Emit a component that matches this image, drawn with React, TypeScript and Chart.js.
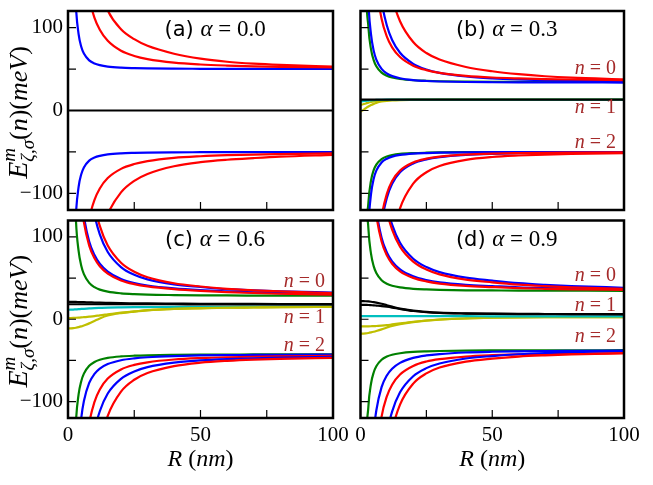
import { useEffect, useRef } from 'react'
import { Chart, registerables } from 'chart.js'

Chart.register(...registerables)

const W = 653
const H = 485
const SERIF = '"Liberation Serif", "Times New Roman", serif'
const SANS = '"DejaVu Sans", sans-serif'
const BROWN = '#a52a2a'
const COL: Record<string, string> = {
  b: '#0000ff',
  r: '#ff0000',
  g: '#008000',
  k: '#000000',
  c: '#00bfbf',
  y: '#bfbf00',
}

// R (nm) sample points shared by every curve
const R_NM = [0, 1, 2, 3, 4, 5, 6, 8, 10, 12, 15, 20, 25, 30, 40, 50, 60, 70, 80, 100]
const X_TICKS = [0, 25, 50, 75, 100]
const X_LABELS = ['0', '', '50', '', '100']
const Y_TICKS = [-100, -50, 0, 50, 100]
const Y_LABELS = ['−100', '', '0', '', '100']
const N_TEXT = ['0', '1', '2']

type V = (number | null)[]

// (a) alpha = 0.0
const A_BLUE_UP: V = [null, 723, 218, 124.8, 92.1, 76.9, 68.7, 60.5, 56.7, 54.7, 53, 51.7, 51.1, 50.7, 50.4, 50.3, 50.2, 50.1, 50.1, 50.1]
const A_RED_UP1: V = [null, null, null, null, 294, 224.7, 182.9, 136.3, 111.8, 97.5, 84, 72, 65.8, 62, 57.7, 55.5, 54.2, 53.3, 52.7, 52]
const A_RED_UP2: V = [null, null, null, null, null, null, 329.5, 231.5, 179.9, 148.8, 120.7, 98, 86, 78, 68.5, 62.5, 58.8, 56.5, 55, 53]
const A_BLUE_DN: V = [null, -723, -218, -124.8, -92.1, -76.9, -68.7, -60.5, -56.7, -54.7, -53, -51.7, -51.1, -50.7, -50.4, -50.3, -50.2, -50.1, -50.1, -50.1]
const A_RED_DN1: V = [null, null, null, null, -278, -213, -174, -130.7, -107.8, -94, -81.5, -70.4, -64.6, -61.1, -57.2, -55.2, -53.9, -53.1, -52.6, -51.8]
const A_RED_DN2: V = [null, null, null, null, null, null, -346, -242, -187.7, -154.8, -125, -98.7, -84.8, -76.5, -67.2, -62.3, -59.4, -57.4, -55.7, -53.6]
const A_BLACK: V = [0, 0, 0, 0, 0, 0, 0, 0, 0, 0, 0, 0, 0, 0, 0, 0, 0, 0, 0, 0]

// (b) alpha = 0.3
const B_GREEN_UP: V = [null, 512, 171, 100.5, 73.7, 60.7, 53.3, 45.6, 41.9, 39.8, 38, 36.5, 35.8, 35.3, 34.9, 34.7, 34.6, 34.5, 34.5, 34.4]
const B_BLUE_UP1: V = [null, 735, 235, 130.7, 91.4, 72.2, 61.4, 50.1, 44.6, 41.5, 38.9, 36.7, 35.6, 35, 34.4, 34.1, 33.9, 33.8, 33.8, 33.7]
const B_RED_UP1: V = [null, null, null, null, 249, 188, 151.4, 110.6, 89.1, 76.2, 64.5, 54.1, 48.7, 45.4, 41.8, 39.8, 38.7, 37.9, 37.4, 36.7]
const B_BLUE_UP2: V = [null, null, null, null, 332.8, 243.5, 189.8, 132.1, 102.6, 85.1, 69.6, 56.3, 49.4, 45.4, 41, 38.7, 37.4, 36.6, 36, 35.2]
const B_RED_UP2: V = [null, null, null, null, null, null, 319, 220, 167.7, 136.2, 107.7, 82.6, 69.3, 61.4, 52.5, 47.3, 43.8, 41.3, 39.6, 37.5]
const B_GREEN_DN: V = [null, -599, -187, -111, -84.3, -72, -65.3, -58.6, -55.5, -53.8, -52.4, -51.4, -50.9, -50.6, -50.3, -50.2, -50.2, -50.1, -50.1, -50.1]
const B_BLUE_DN1: V = [null, -859, -252, -140, -100.6, -82.4, -72.5, -62.6, -58.1, -55.6, -53.6, -52, -51.3, -50.9, -50.5, -50.3, -50.2, -50.2, -50.1, -50.1]
const B_RED_DN1: V = [null, null, null, null, -366, -252, -190.5, -129, -100.6, -85.1, -72.5, -62.6, -58.1, -55.6, -53.2, -52, -51.4, -51, -50.8, -50.5]
const B_BLUE_DN2: V = [null, null, null, null, -396.6, -271.8, -204, -136.6, -105.5, -88.5, -74.6, -63.9, -58.9, -56.2, -53.5, -52.2, -51.5, -51.1, -50.9, -50.6]
const B_RED_DN2: V = [null, null, null, null, null, null, -476, -289.6, -203.3, -156.5, -118.1, -88.3, -74.5, -67, -59.6, -56.1, -54.3, -53.1, -52.4, -51.5]
const B_BLACK: V = [13, 13, 13, 13, 13, 13, 13, 13, 13, 13, 13, 13, 13, 13, 13, 13, 13, 13, 13, 13]
const B_CYAN: V = [11, 11.3, 11.7, 12, 12.3, 12.5, 12.7, 12.9, 13, 13, 13, 13, 13, 13, 13, 13, 13, 13, 13, 13]
const B_YELLOW1: V = [7, 7.5, 8.5, 9.5, 10.3, 11, 11.5, 12.2, 12.6, 12.8, 12.9, 13, 13, 13, 13, 13, 13, 13, 13, 13]
const B_YELLOW2: V = [-1, 0.5, 2.7, 4.8, 6.6, 8, 9.2, 10.8, 11.7, 12.2, 12.6, 12.8, 12.9, 13, 13, 13, 13, 13, 13, 13]

// (c) alpha = 0.6
const C_GREEN_UP: V = [null, 689, 218.3, 120, 83, 65, 54.8, 44.2, 39, 36, 33.5, 31.5, 30.5, 29.9, 29.4, 29.1, 28.9, 28.8, 28.7, 28.7]
const C_RED_UP1: V = [null, null, null, 256, 182.6, 142.6, 117.9, 89.5, 74, 64.4, 55.5, 47.2, 42.7, 39.9, 36.6, 34.5, 33, 31.9, 31, 29.8]
const C_BLUE_UP1: V = [null, null, null, 275, 196, 152, 125, 94.5, 78, 67.5, 58, 49, 44, 41, 37.5, 35.3, 33.8, 32.6, 31.7, 30.5]
const C_RED_UP2: V = [null, null, null, null, null, 340, 265.7, 183.1, 139.6, 113.4, 89.6, 68.7, 57.7, 51.1, 43.7, 39.8, 37, 35.2, 33.8, 31.8]
const C_BLUE_UP2: V = [null, null, null, null, null, 321, 247, 167.8, 127.2, 103.1, 81.7, 63.4, 54, 48.4, 42.4, 39.2, 36.5, 35, 34, 32.5]
const C_GREEN_DN: V = [null, -636, -213, -124.7, -91.4, -75.3, -66.1, -56.6, -51.9, -49.3, -47, -45.2, -44.3, -43.8, -43.3, -43, -42.9, -42.8, -42.7, -42.6]
const C_BLUE_DN1: V = [null, null, null, -227.4, -155.8, -120, -99.4, -77.4, -66.4, -60, -54.5, -49.8, -47.5, -46.2, -44.8, -44, -43.6, -43.4, -43.2, -43]
const C_RED_DN1: V = [null, null, null, null, -313.5, -228.4, -179.2, -126.7, -100.4, -85.3, -72.1, -61, -55.5, -52.3, -48.9, -47.2, -46.2, -45.6, -45.2, -44.6]
const C_BLUE_DN2: V = [null, null, null, null, null, -343.5, -263.7, -178.7, -136.2, -111.8, -90.3, -72.4, -63.4, -58.2, -52.7, -50, -48.4, -47.4, -46.7, -45.8]
const C_RED_DN2: V = [null, null, null, null, null, null, -423, -270.3, -195.5, -153.3, -117.3, -87.9, -73.5, -65.4, -57, -52.8, -50.5, -49, -48.1, -46.9]
const C_BLACK1: V = [21, 21, 21, 21, 20.9, 20.8, 20.7, 20.5, 20.3, 20.1, 19.9, 19.6, 19.4, 19.2, 19, 18.8, 18.7, 18.6, 18.5, 18.4]
const C_BLACK2: V = [18.2, 18.2, 18.2, 18.2, 18.2, 18.2, 18.2, 18.2, 18.2, 18.2, 18.2, 18.2, 18.2, 18.2, 18.2, 18.1, 18.1, 18.1, 18, 18]
const C_CYAN: V = [11.5, 11.6, 11.8, 12, 12.2, 12.5, 12.7, 13.1, 13.5, 13.8, 14.2, 14.5, 14.7, 14.8, 15, 15.1, 15.2, 15.3, 15.4, 15.5]
const C_YELLOW1: V = [1.5, 1.5, 1.6, 1.8, 2, 2.2, 2.5, 3.1, 3.8, 4.8, 6, 8, 9.5, 11, 12.5, 13.5, 14, 14.3, 14.6, 15]
const C_YELLOW2: V = [-11, -11, -10.8, -10.3, -9.6, -8.7, -7.5, -5, -2, 1, 4.5, 7.5, 9.3, 10.8, 12.5, 13.3, 14, 14.3, 14.6, 15]

// (d) alpha = 0.9
const D_GREEN_UP: V = [null, 580, 191.2, 110, 79.5, 64.6, 56.2, 47.4, 43.1, 40.7, 38.7, 37, 36.2, 35.7, 35.2, 35, 34.8, 34.8, 34.7, 34.6]
const D_RED_UP1: V = [null, null, null, null, 202.7, 155.1, 126.4, 94.5, 77.6, 67.5, 58.3, 50.3, 46, 43.4, 40.6, 39.1, 37.8, 37, 36.4, 35.6]
const D_BLUE_UP1: V = [null, null, null, null, 213.7, 163.3, 132.9, 99, 81.2, 70.4, 60.7, 52.2, 47.7, 44.9, 41.9, 40.3, 38.8, 38, 37.4, 36.6]
const D_RED_UP2: V = [null, null, null, null, null, 305.7, 241.2, 169.4, 131.6, 108.8, 88.2, 70, 60.4, 54.6, 48.2, 44.8, 42, 40.2, 38.8, 36.8]
const D_BLUE_UP2: V = [null, null, null, null, null, 324.6, 255.9, 179.5, 139.2, 114.9, 93, 73.6, 63.4, 57.3, 50.5, 46.9, 43.8, 41.8, 40.3, 38.3]
const D_GREEN_DN: V = [null, -530, -179.2, -105.8, -78.1, -64.7, -57.1, -49.2, -45.3, -43.1, -41.3, -39.7, -39, -38.6, -38.1, -37.9, -37.8, -37.7, -37.7, -37.6]
const D_BLUE_DN1: V = [null, null, null, -276, -183.6, -137.5, -110.9, -82.5, -68.3, -60.1, -53, -47, -44, -42.3, -40.4, -39.5, -39, -38.6, -38.4, -38.1]
const D_RED_DN1: V = [null, null, null, null, -294, -214, -167.7, -118.4, -93.7, -79.5, -67.1, -56.7, -51.4, -48.5, -45.3, -43.7, -42.7, -42.2, -41.8, -41.3]
const D_BLUE_DN2: V = [null, null, null, null, null, -365, -278, -185.3, -138.9, -112.2, -88.8, -69.2, -59.4, -53.8, -47.7, -44.7, -42.5, -41, -40, -38.8]
const D_RED_DN2: V = [null, null, null, null, null, null, -368.6, -236.3, -171.5, -134.9, -103.7, -78.2, -65.8, -58.7, -51.4, -47.8, -45.3, -43.8, -42.7, -41.2]
const D_BLACK1: V = [22, 22, 21.9, 21.7, 21.3, 20.8, 20.2, 18.8, 17, 15.3, 13, 10.5, 9, 8, 7.2, 6.8, 6.5, 6.4, 6.3, 6.2]
const D_BLACK2: V = [17.5, 17.5, 17.4, 17.3, 17.1, 16.9, 16.6, 16, 15.2, 14.2, 12.5, 10, 8.5, 7.6, 6.9, 6.5, 6.3, 6.2, 6.1, 6]
const D_CYAN: V = [3.8, 3.8, 3.8, 3.8, 3.8, 3.8, 3.8, 3.8, 3.8, 3.8, 3.8, 3.7, 3.7, 3.7, 3.7, 3.6, 3.6, 3.6, 3.6, 3.6]
const D_YELLOW1: V = [-8.7, -8.7, -8.7, -8.6, -8.5, -8.4, -8.2, -7.8, -7.2, -6.3, -5, -3, -1.5, -0.3, 1, 1.8, 2.2, 2.4, 2.5, 2.7]
const D_YELLOW2: V = [-17.5, -17.4, -17.2, -16.7, -16, -15.2, -14.3, -12.3, -10, -8, -6, -3.5, -1.7, -0.5, 1, 1.8, 2.2, 2.4, 2.5, 2.7]

// n = 0,1,2 label baselines (meV), per panel
const B_N_POS = [44.6, -3.3, -45.8]
const C_N_POS = [39.5, -4, -38.3]
const D_N_POS = [46.3, 10, -28.2]

type Series = [V, string][]

// listed top-most first (Chart.js paints dataset 0 last)
const A_SERIES: Series = [
  [A_RED_UP2, 'r'], [A_RED_UP1, 'r'], [A_RED_DN2, 'r'], [A_RED_DN1, 'r'],
  [A_BLUE_UP, 'b'], [A_BLUE_DN, 'b'], [A_BLACK, 'k'],
]
const B_SERIES: Series = [
  [B_RED_UP2, 'r'], [B_RED_UP1, 'r'], [B_BLUE_UP2, 'b'], [B_BLUE_UP1, 'b'], [B_GREEN_UP, 'g'],
  [B_RED_DN2, 'r'], [B_RED_DN1, 'r'], [B_BLUE_DN2, 'b'], [B_BLUE_DN1, 'b'], [B_GREEN_DN, 'g'],
  [B_BLACK, 'k'], [B_CYAN, 'c'], [B_YELLOW1, 'y'], [B_YELLOW2, 'y'],
]
const C_SERIES: Series = [
  [C_RED_UP2, 'r'], [C_BLUE_UP2, 'b'], [C_RED_UP1, 'r'], [C_BLUE_UP1, 'b'], [C_GREEN_UP, 'g'],
  [C_RED_DN2, 'r'], [C_BLUE_DN2, 'b'], [C_RED_DN1, 'r'], [C_BLUE_DN1, 'b'], [C_GREEN_DN, 'g'],
  [C_BLACK1, 'k'], [C_BLACK2, 'k'], [C_YELLOW1, 'y'], [C_YELLOW2, 'y'], [C_CYAN, 'c'],
]
const D_SERIES: Series = [
  [D_RED_UP2, 'r'], [D_BLUE_UP2, 'b'], [D_RED_UP1, 'r'], [D_BLUE_UP1, 'b'], [D_GREEN_UP, 'g'],
  [D_RED_DN2, 'r'], [D_BLUE_DN2, 'b'], [D_RED_DN1, 'r'], [D_BLUE_DN1, 'b'], [D_GREEN_DN, 'g'],
  [D_BLACK1, 'k'], [D_BLACK2, 'k'], [D_CYAN, 'c'], [D_YELLOW1, 'y'], [D_YELLOW2, 'y'],
]

interface Panel {
  id: string
  tag: string
  alpha: string
  area: { left: number; top: number; right: number; bottom: number }
  showX: boolean
  showY: boolean
  series: Series
  nPos: number[]
}

const PANELS: Panel[] = [
  { id: 'a', tag: '(a)', alpha: '0.0', area: { left: 68, top: 11, right: 333, bottom: 210 }, showX: false, showY: true, series: A_SERIES, nPos: [] },
  { id: 'b', tag: '(b)', alpha: '0.3', area: { left: 360.5, top: 11, right: 624, bottom: 210 }, showX: false, showY: false, series: B_SERIES, nPos: B_N_POS },
  { id: 'c', tag: '(c)', alpha: '0.6', area: { left: 68, top: 220.5, right: 333, bottom: 418 }, showX: true, showY: true, series: C_SERIES, nPos: C_N_POS },
  { id: 'd', tag: '(d)', alpha: '0.9', area: { left: 360.5, top: 220.5, right: 624, bottom: 418 }, showX: true, showY: false, series: D_SERIES, nPos: D_N_POS },
]

const Y_AXIS_W = 60
const X_AXIS_H = 67
const TITLE_R = 55.5
const TITLE_E = 89.5
const N_LABEL_R = 97

type Seg = { t: string; font: string; dy?: number; hold?: boolean }

function drawRich(ctx: CanvasRenderingContext2D, segs: Seg[], x: number, y: number, align: 'left' | 'center' | 'right') {
  const xs: number[] = []
  let pos = 0
  let held = 0
  for (const s of segs) {
    ctx.font = s.font
    const w = ctx.measureText(s.t).width
    xs.push(pos)
    if (s.hold) {
      held = w
    } else {
      pos += Math.max(w, held)
      held = 0
    }
  }
  const start = align === 'center' ? x - pos / 2 : align === 'right' ? x - pos : x
  ctx.textAlign = 'left'
  ctx.textBaseline = 'alphabetic'
  segs.forEach((s, i) => {
    ctx.font = s.font
    ctx.fillText(s.t, start + xs[i], y + (s.dy ?? 0))
  })
}

function makeDecor(p: Panel) {
  return {
    id: 'decor-' + p.id,
    afterDatasetsDraw(chart: Chart) {
      const { ctx, chartArea: a } = chart
      const sx = chart.scales.x
      const sy = chart.scales.y
      ctx.save()
      ctx.strokeStyle = '#000'
      ctx.lineWidth = 1.2
      ctx.beginPath()
      for (const v of X_TICKS) {
        if (v === 0 || v === 100) continue
        const x = sx.getPixelForValue(v)
        ctx.moveTo(x, a.bottom)
        ctx.lineTo(x, a.bottom - 8)
      }
      for (const v of Y_TICKS) {
        const y = sy.getPixelForValue(v)
        ctx.moveTo(a.left, y)
        ctx.lineTo(a.left + 8, y)
      }
      ctx.stroke()
      ctx.lineWidth = 2.5
      ctx.strokeRect(a.left, a.top, a.right - a.left, a.bottom - a.top)
      ctx.restore()
    },
    afterDraw(chart: Chart) {
      const { ctx, chartArea: a } = chart
      const sx = chart.scales.x
      const sy = chart.scales.y
      ctx.save()
      ctx.fillStyle = '#000'
      drawRich(
        ctx,
        [
          { t: p.tag + ' ', font: `21px ${SANS}` },
          { t: 'α', font: `italic 23px ${SERIF}` },
          { t: ' = ' + p.alpha, font: `23px ${SERIF}` },
        ],
        sx.getPixelForValue(TITLE_R),
        sy.getPixelForValue(TITLE_E),
        'center',
      )
      ctx.fillStyle = BROWN
      p.nPos.forEach((e, i) => {
        drawRich(
          ctx,
          [
            { t: 'n', font: `italic 20px ${SERIF}` },
            { t: ' = ' + N_TEXT[i], font: `20px ${SERIF}` },
          ],
          sx.getPixelForValue(N_LABEL_R),
          sy.getPixelForValue(e),
          'right',
        )
      })
      ctx.fillStyle = '#000'
      if (p.showX) {
        drawRich(
          ctx,
          [
            { t: 'R', font: `italic 24px ${SERIF}` },
            { t: ' (', font: `24px ${SERIF}` },
            { t: 'nm', font: `italic 24px ${SERIF}` },
            { t: ')', font: `24px ${SERIF}` },
          ],
          (a.left + a.right) / 2,
          466,
          'center',
        )
      }
      if (p.showY) {
        ctx.translate(27, (a.top + a.bottom) / 2 + 2)
        ctx.rotate(-Math.PI / 2)
        drawRich(
          ctx,
          [
            { t: 'E', font: `italic 28px ${SERIF}` },
            { t: 'm', font: `italic 19px ${SERIF}`, dy: -12, hold: true },
            { t: 'ζ,σ', font: `italic 19px ${SERIF}`, dy: 7 },
            { t: '(', font: `26px ${SERIF}` },
            { t: 'n', font: `italic 26px ${SERIF}` },
            { t: ')(', font: `26px ${SERIF}` },
            { t: 'meV', font: `italic 26px ${SERIF}` },
            { t: ')', font: `26px ${SERIF}` },
          ],
          0,
          0,
          'center',
        )
      }
      ctx.restore()
    },
  }
}

function PanelChart({ p }: { p: Panel }) {
  const canvasRef = useRef<HTMLCanvasElement>(null)

  useEffect(() => {
    if (!canvasRef.current) return
    const yW = p.showY ? Y_AXIS_W : 0
    const xH = p.showX ? X_AXIS_H : 0
    const chart = new Chart(canvasRef.current, {
      type: 'line',
      data: {
        datasets: p.series.map(([vals, c]) => ({
          data: R_NM.map((x, i) => ({ x, y: vals[i] })),
          borderColor: COL[c],
          backgroundColor: COL[c],
          borderWidth: 2.2,
          pointRadius: 0,
          fill: false,
          cubicInterpolationMode: 'monotone' as const,
          borderJoinStyle: 'round' as const,
        })),
      },
      options: {
        responsive: false,
        animation: false,
        events: [],
        layout: {
          padding: {
            left: p.area.left - yW,
            right: W - p.area.right,
            top: p.area.top,
            bottom: H - p.area.bottom - xH,
          },
        },
        plugins: { legend: { display: false }, tooltip: { enabled: false } },
        scales: {
          x: {
            type: 'linear',
            min: 0,
            max: 100,
            grid: { display: false, drawTicks: false },
            border: { display: false },
            ticks: {
              display: p.showX,
              autoSkip: false,
              maxRotation: 0,
              padding: 5,
              color: '#000',
              font: { family: SERIF, size: 21 },
              callback: (_v, i) => X_LABELS[i],
            },
            afterBuildTicks: (s) => {
              s.ticks = X_TICKS.map((value) => ({ value }))
            },
            afterFit: (s) => {
              s.height = xH
              s.paddingLeft = 0
              s.paddingRight = 0
              s.paddingTop = 0
              s.paddingBottom = 0
            },
          },
          y: {
            type: 'linear',
            min: -120,
            max: 120,
            grid: { display: false, drawTicks: false },
            border: { display: false },
            ticks: {
              display: p.showY,
              autoSkip: false,
              padding: 5,
              color: '#000',
              font: { family: SERIF, size: 21 },
              callback: (_v, i) => Y_LABELS[i],
            },
            afterBuildTicks: (s) => {
              s.ticks = Y_TICKS.map((value) => ({ value }))
            },
            afterFit: (s) => {
              s.width = yW
              s.paddingLeft = 0
              s.paddingRight = 0
              s.paddingTop = 0
              s.paddingBottom = 0
            },
          },
        },
      },
      plugins: [makeDecor(p)],
    })
    return () => chart.destroy()
  }, [p])

  return (
    <canvas
      ref={canvasRef}
      width={W}
      height={H}
      style={{ position: 'absolute', left: 0, top: 0, width: W, height: H }}
    />
  )
}

export default function App() {
  return (
    <div style={{ position: 'absolute', left: 0, top: 0, width: W, height: H, background: '#fff' }}>
      {PANELS.map((p) => (
        <PanelChart key={p.id} p={p} />
      ))}
    </div>
  )
}
